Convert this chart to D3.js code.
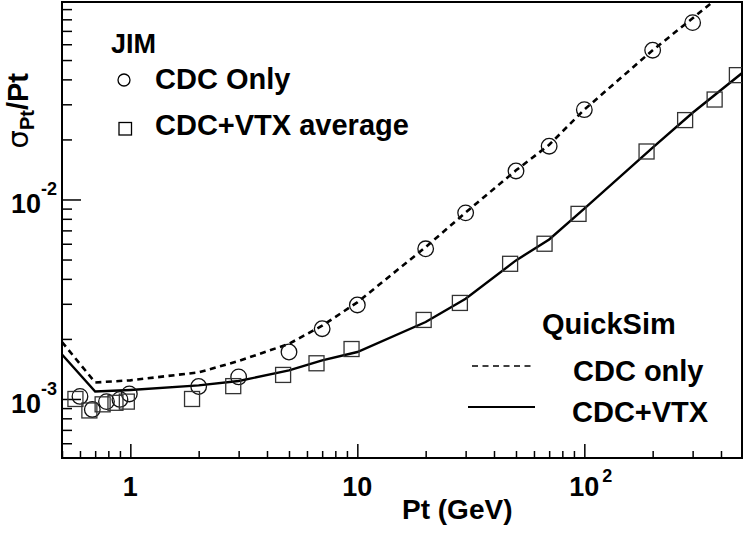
<!DOCTYPE html>
<html><head><meta charset="utf-8">
<script src="https://cdn.jsdelivr.net/npm/d3@7"></script>
<style>
html,body{margin:0;padding:0;background:#fff;}
text{font-family:"Liberation Sans",Arial,Helvetica,sans-serif;font-weight:bold;fill:#000;}
</style></head>
<body>
<svg id="c" width="744" height="537"></svg>
<script>
// JIM simulation, CDC only (open circles)
const jimCdcPt  = [0.6, 0.68, 0.785, 0.9, 0.99, 2, 3, 5, 7, 10, 20, 30, 50, 70, 100, 200, 300];
const jimCdcRes = [1.03e-3, 8.86e-4, 9.7e-4, 9.95e-4, 1.06e-3, 1.155e-3, 1.29e-3, 1.72e-3, 2.25e-3, 2.96e-3,
                   5.66e-3, 8.57e-3, 1.39e-2, 1.85e-2, 2.82e-2, 5.6e-2, 7.7e-2];
// JIM simulation, CDC+VTX average (open squares)
const jimVtxPt  = [0.573, 0.66, 0.755, 0.86, 0.965, 1.87, 2.84, 4.71, 6.61, 9.43, 19.6, 28.3, 47.1, 66.8, 94.3, 188, 278, 375, 470];
const jimVtxRes = [1.0e-3, 8.76e-4, 9.4e-4, 9.57e-4, 9.7e-4, 1.0e-3, 1.16e-3, 1.32e-3, 1.51e-3, 1.78e-3,
                   2.49e-3, 3.03e-3, 4.76e-3, 6.0e-3, 8.47e-3, 1.74e-2, 2.5e-2, 3.17e-2, 4.2e-2];
// QuickSim curves
const qsPt     = [0.5, 0.7, 1, 2, 3, 5, 7, 10, 20, 30, 50, 70, 100, 200, 300, 500];
const qsCdcRes = [1.93e-3, 1.21e-3, 1.24e-3, 1.36e-3, 1.55e-3, 1.89e-3, 2.33e-3, 3.05e-3, 5.77e-3, 8.6e-3,
                  1.4e-2, 1.88e-2, 2.82e-2, 5.6e-2, 8.1e-2, 0.13];
const qsVtxRes = [1.67e-3, 1.09e-3, 1.11e-3, 1.17e-3, 1.23e-3, 1.39e-3, 1.56e-3, 1.72e-3, 2.43e-3, 3.18e-3,
                  4.95e-3, 6.3e-3, 9.0e-3, 1.82e-2, 2.72e-2, 4.34e-2];
// tick labels
const xTickLabels = [{v:1, base:"1", exp:""}, {v:10, base:"10", exp:""}, {v:100, base:"10", exp:"2"}];
const yTickLabels = [{v:1e-3, base:"10", exp:"-3"}, {v:1e-2, base:"10", exp:"-2"}];

const L = 62, R = 742, T = 2, B = 458;
const svg = d3.select("#c");
svg.append("rect").attr("width",744).attr("height",537).attr("fill","#fff");

const x = d3.scaleLog().domain([0.5, 495]).range([L, R]);
const y = d3.scaleLog().domain([5.06e-4, 0.0977]).range([B, T]);

svg.append("defs").append("clipPath").attr("id","clip")
  .append("rect").attr("x",L).attr("y",T).attr("width",R-L).attr("height",B-T);

// ticks
function logTicks(lo, hi){
  const out=[];
  for(let e=Math.floor(Math.log10(lo)); e<=Math.ceil(Math.log10(hi)); e++){
    for(let m=1;m<=9;m++){ const v=m*Math.pow(10,e); if(v>=lo*0.999 && v<=hi*1.001) out.push(v); }
  }
  return out;
}
const isMajor = v => Math.abs(Math.log10(v)-Math.round(Math.log10(v)))<1e-6;
const xt = logTicks(0.5, 495), yt = logTicks(5.06e-4, 0.0977);

const gx = svg.append("g").attr("transform",`translate(0,${B})`);
gx.call(d3.axisBottom(x).tickValues(xt.filter(v=>!isMajor(v))).tickSize(-7).tickFormat(""));
const gx2 = svg.append("g").attr("transform",`translate(0,${B})`);
gx2.call(d3.axisBottom(x).tickValues(xt.filter(isMajor)).tickSize(-14).tickFormat(""));
const gy = svg.append("g").attr("transform",`translate(${L},0)`);
gy.call(d3.axisLeft(y).tickValues(yt.filter(v=>!isMajor(v))).tickSize(-10).tickFormat(""));
const gy2 = svg.append("g").attr("transform",`translate(${L},0)`);
gy2.call(d3.axisLeft(y).tickValues(yt.filter(isMajor)).tickSize(-19).tickFormat(""));
svg.selectAll(".domain").remove();
svg.selectAll(".tick line").attr("stroke","#000").attr("stroke-width",1.5);

// frame
svg.append("rect").attr("x",L).attr("y",T).attr("width",R-L).attr("height",B-T)
  .attr("fill","none").attr("stroke","#000").attr("stroke-width",2);

// x tick labels
xTickLabels.forEach(d=>{
  const t = svg.append("text").attr("x", x(d.v)).attr("y", 496).attr("font-size",27).attr("text-anchor","middle").text(d.base);
  if(d.exp){
    const w = t.node().getComputedTextLength();
    svg.append("text").attr("x", x(d.v)+w/2+3).attr("y", 482).attr("font-size",18).text(d.exp);
  }
});
// y tick labels
yTickLabels.forEach(d=>{
  const e = svg.append("text").attr("x", 57).attr("y", y(d.v)-4).attr("font-size",18).attr("text-anchor","end").text(d.exp);
  const ew = e.node().getComputedTextLength();
  svg.append("text").attr("x", 57-ew).attr("y", y(d.v)+14).attr("font-size",27).attr("text-anchor","end").text(d.base);
});

// axis titles
svg.append("text").attr("x",402).attr("y",519).attr("font-size",28).text("Pt (GeV)");
const yl = svg.append("text").attr("transform","translate(28,73) rotate(-90)").attr("text-anchor","end").attr("font-size",29);
yl.append("tspan").attr("font-family","'DejaVu Sans',sans-serif").attr("font-weight","normal").text("σ");
yl.append("tspan").attr("font-size",20).attr("dy",6).text("Pt");
yl.append("tspan").attr("dy",-6).text("/Pt");

// curves
const plot = svg.append("g").attr("clip-path","url(#clip)");
const line = d3.line().x(d=>x(d[0])).y(d=>y(d[1]));
plot.append("path").datum(qsPt.map((p,i)=>[p,qsCdcRes[i]])).attr("d",line)
  .attr("fill","none").attr("stroke","#000").attr("stroke-width",2.6).attr("stroke-dasharray","6,4.5");
plot.append("path").datum(qsPt.map((p,i)=>[p,qsVtxRes[i]])).attr("d",line)
  .attr("fill","none").attr("stroke","#000").attr("stroke-width",2.4);

// markers
plot.selectAll("circle.j").data(jimCdcPt.map((p,i)=>[p,jimCdcRes[i]])).enter().append("circle")
  .attr("cx",d=>x(d[0])).attr("cy",d=>y(d[1])).attr("r",7.8)
  .attr("fill","none").attr("stroke","#111").attr("stroke-width",1.3);
plot.selectAll("rect.j").data(jimVtxPt.map((p,i)=>[p,jimVtxRes[i]])).enter().append("rect")
  .attr("x",d=>x(d[0])-7.5).attr("y",d=>y(d[1])-7.5).attr("width",15).attr("height",15)
  .attr("fill","none").attr("stroke","#333").attr("stroke-width",1.3);

// JIM legend
svg.append("text").attr("x",111).attr("y",53).attr("font-size",27).text("JIM");
svg.append("circle").attr("cx",124).attr("cy",80).attr("r",6).attr("fill","none").attr("stroke","#000").attr("stroke-width",1.3);
svg.append("text").attr("x",155).attr("y",89).attr("font-size",29).text("CDC Only");
svg.append("rect").attr("x",119).attr("y",122.5).attr("width",12.5).attr("height",12.5).attr("fill","none").attr("stroke","#000").attr("stroke-width",1.3);
svg.append("text").attr("x",155).attr("y",135).attr("font-size",29).text("CDC+VTX average");

// QuickSim legend
svg.append("text").attr("x",542).attr("y",334).attr("font-size",29).text("QuickSim");
svg.append("line").attr("x1",472).attr("x2",534).attr("y1",366).attr("y2",366)
  .attr("stroke","#000").attr("stroke-width",1.6).attr("stroke-dasharray","6,4.5");
svg.append("text").attr("x",573).attr("y",381).attr("font-size",29).text("CDC only");
svg.append("line").attr("x1",468).attr("x2",535).attr("y1",407).attr("y2",407)
  .attr("stroke","#000").attr("stroke-width",2.2);
svg.append("text").attr("x",572).attr("y",422).attr("font-size",29).text("CDC+VTX");
</script>
</body></html>
